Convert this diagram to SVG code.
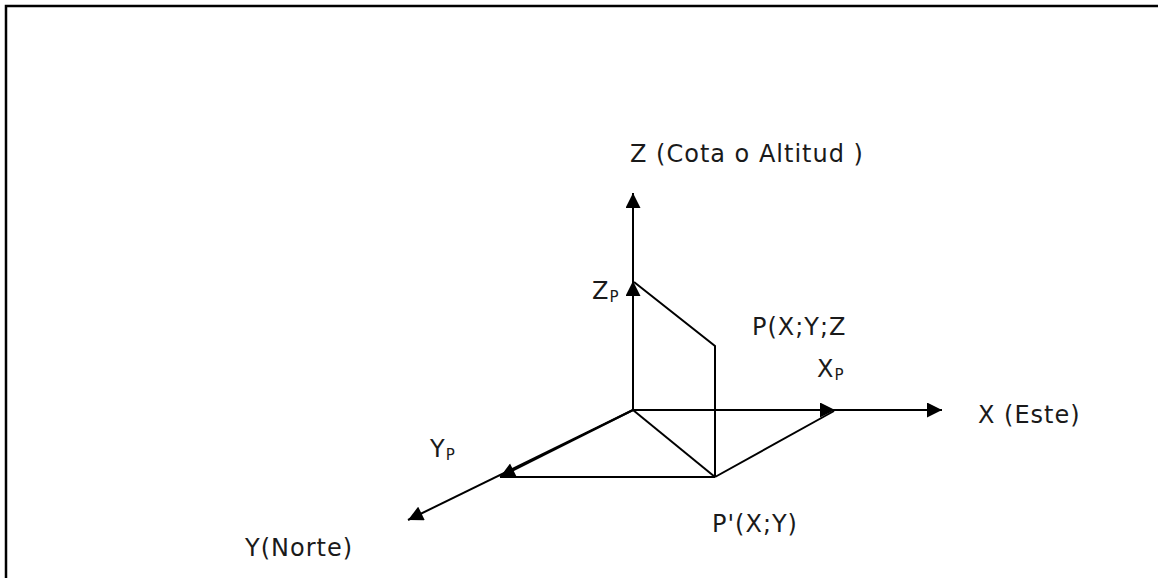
<svg xmlns="http://www.w3.org/2000/svg" width="1158" height="578" viewBox="0 0 1158 578">
<defs>
<marker id="ah" viewBox="0 0 10 10" refX="10" refY="5" markerWidth="16" markerHeight="15" markerUnits="userSpaceOnUse" orient="auto">
<path d="M0,0 L10,5 L0,10 Z" fill="#000"/>
</marker>
</defs>
<style>
text{font-family:"DejaVu Sans",Verdana,sans-serif;font-size:24px;letter-spacing:1px;fill:#1a1a1a}
.sub{font-size:15px;letter-spacing:0}
.ln{stroke:#000;stroke-width:2;fill:none}
</style>
<rect width="1158" height="578" fill="#fff"/>
<path d="M6,578 V6 H1158" stroke="#000" stroke-width="2.5" fill="none"/>
<g id="connectors">
<line class="ln" x1="633" y1="410" x2="633" y2="193" marker-end="url(#ah)"/>
<line class="ln" x1="633" y1="410" x2="633" y2="281" marker-end="url(#ah)"/>
<line class="ln" x1="633" y1="410" x2="942" y2="410" marker-end="url(#ah)"/>
<line class="ln" x1="633" y1="410" x2="835" y2="410" marker-end="url(#ah)"/>
<line class="ln" x1="633" y1="410" x2="408" y2="520" marker-end="url(#ah)"/>
<line class="ln" x1="633" y1="410" x2="500" y2="477" marker-end="url(#ah)"/>
<polyline class="ln" points="634,282 715,346 715,477"/>
<line class="ln" x1="633" y1="410" x2="715" y2="477"/>
<line class="ln" x1="500" y1="477" x2="715" y2="477"/>
<line class="ln" x1="715" y1="477" x2="834" y2="411"/>
</g>
<g id="z-axis"><text x="630" y="162">Z (Cota o Altitud )</text></g>
<g id="zp"><text x="592" y="299">Z<tspan class="sub" dy="3">P</tspan></text></g>
<g id="p"><text x="752" y="335">P(X;Y;Z</text></g>
<g id="xp"><text x="817" y="377">X<tspan class="sub" dy="3">P</tspan></text></g>
<g id="x-axis"><text x="978" y="423">X (Este)</text></g>
<g id="yp"><text x="430" y="457">Y<tspan class="sub" dy="3">P</tspan></text></g>
<g id="pprime"><text x="712" y="532">P'(X;Y)</text></g>
<g id="y-axis"><text x="245" y="556">Y(Norte)</text></g>
</svg>
